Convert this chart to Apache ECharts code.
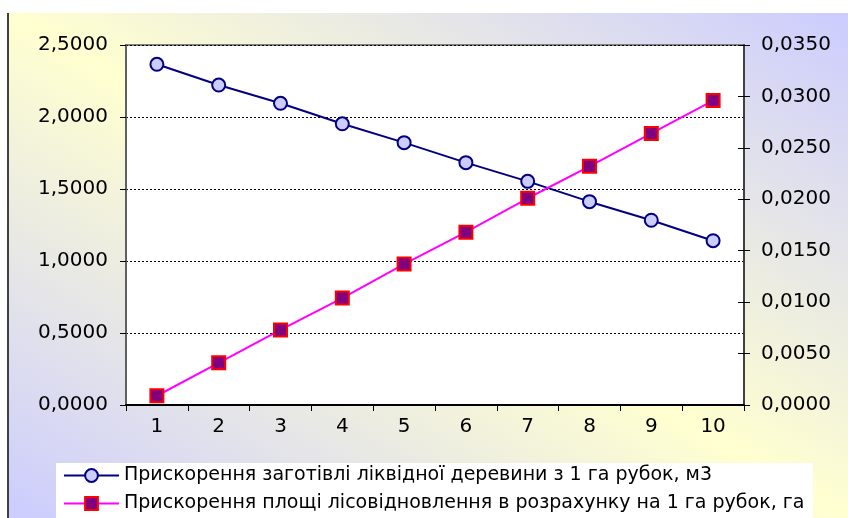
<!DOCTYPE html>
<html>
<head>
<meta charset="utf-8">
<script src="https://cdn.jsdelivr.net/npm/echarts@6/dist/echarts.min.js"></script>
<style>
  html, body { margin: 0; padding: 0; background: #fff; }
  #chart { width: 848px; height: 518px; }
</style>
</head>
<body>
<div id="chart"></div>
<script>
  // роки (порядкові номери)
  const categories = ['1', '2', '3', '4', '5', '6', '7', '8', '9', '10'];
  // прискорення заготівлі ліквідної деревини, м3 (ліва вісь)
  const harvestGain = [2.366, 2.222, 2.095, 1.953, 1.822, 1.683, 1.553, 1.412, 1.283, 1.141];
  // прискорення площі лісовідновлення, га (права вісь)
  const reforestGain = [0.0009, 0.0041, 0.0073, 0.0104, 0.0137, 0.0168, 0.0201, 0.0232, 0.0264, 0.0296];
  const seriesNames = [
    'Прискорення заготівлі ліквідної деревини з 1 га рубок, м3',
    'Прискорення площі лісовідновлення в розрахунку на 1 га рубок, га'
  ];

  const fontFamily = 'DejaVu Sans';
  const fmt = function (v) { return v.toFixed(4).replace('.', ','); };

  let myChart = echarts.init(document.getElementById('chart'));
  let option = {
    animation: false,
    backgroundColor: '#ffffff',
    textStyle: { fontFamily: fontFamily },
    graphic: [
      // фон області діаграми: жовтий по діагоналі, бузковий у кутах
      {
        type: 'rect',
        z: -10,
        shape: { x: 8, y: 13, width: 840, height: 505 },
        style: {
          fill: new echarts.graphic.LinearGradient(651, -105, 205, 636, [
            { offset: 0, color: '#ccccff' },
            { offset: 0.5, color: '#ffffd0' },
            { offset: 1, color: '#ccccff' }
          ], true)
        }
      },
      {
        type: 'line',
        z: -9,
        shape: { x1: 8, y1: 13, x2: 8, y2: 518 },
        style: { stroke: '#404040', lineWidth: 2 }
      },
      // біла підкладка легенди
      {
        type: 'rect',
        z: -8,
        shape: { x: 56, y: 463, width: 757, height: 60 },
        style: { fill: '#ffffff' }
      }
    ],
    grid: {
      left: 126,
      right: 104,
      top: 45,
      bottom: 113,
      show: true,
      backgroundColor: '#ffffff',
      borderColor: '#808080',
      borderWidth: 2
    },
    legend: {
      orient: 'vertical',
      left: 63,
      top: 466,
      padding: 0,
      itemWidth: 55,
      itemHeight: 16,
      itemGap: 9,
      textStyle: { fontSize: 19, color: '#000', fontFamily: fontFamily },
      data: seriesNames
    },
    xAxis: {
      type: 'category',
      data: categories,
      boundaryGap: true,
      axisLine: { lineStyle: { color: '#000', width: 2 } },
      axisTick: { show: true, length: 6, lineStyle: { color: '#000' } },
      axisLabel: { color: '#000', fontSize: 20, margin: 12 },
      splitLine: { show: false }
    },
    yAxis: [
      {
        type: 'value',
        position: 'left',
        min: 0,
        max: 2.5,
        interval: 0.5,
        axisLine: { show: true, lineStyle: { color: '#606060', width: 2 } },
        axisTick: { show: true, length: 6, lineStyle: { color: '#000' } },
        axisLabel: { color: '#000', fontSize: 20, margin: 18, formatter: fmt },
        splitLine: { show: true, lineStyle: { color: '#000', type: [2, 2], width: 1 } }
      },
      {
        type: 'value',
        position: 'right',
        min: 0,
        max: 0.035,
        interval: 0.005,
        axisLine: { show: true, lineStyle: { color: '#404040', width: 2 } },
        axisTick: { show: true, length: 6, lineStyle: { color: '#000' } },
        axisLabel: { color: '#000', fontSize: 20, margin: 17, formatter: fmt },
        splitLine: { show: false }
      },
      {
        // внутрішні засічки правої осі
        type: 'value',
        position: 'right',
        min: 0,
        max: 0.035,
        interval: 0.005,
        axisLine: { show: false },
        axisTick: { show: true, inside: true, length: 6, lineStyle: { color: '#000' } },
        axisLabel: { show: false },
        splitLine: { show: false }
      }
    ],
    series: [
      {
        name: seriesNames[0],
        type: 'line',
        yAxisIndex: 0,
        data: harvestGain,
        symbol: 'circle',
        symbolSize: 13,
        lineStyle: { color: '#000080', width: 2 },
        itemStyle: { color: '#ccccff', borderColor: '#000080', borderWidth: 2 },
        z: 3
      },
      {
        name: seriesNames[1],
        type: 'line',
        yAxisIndex: 1,
        data: reforestGain,
        symbol: 'rect',
        symbolSize: 13,
        lineStyle: { color: '#ff00ff', width: 2 },
        itemStyle: { color: '#800080', borderColor: '#ff0000', borderWidth: 2 },
        z: 4
      }
    ]
  };
  myChart.setOption(option);
</script>
</body>
</html>
